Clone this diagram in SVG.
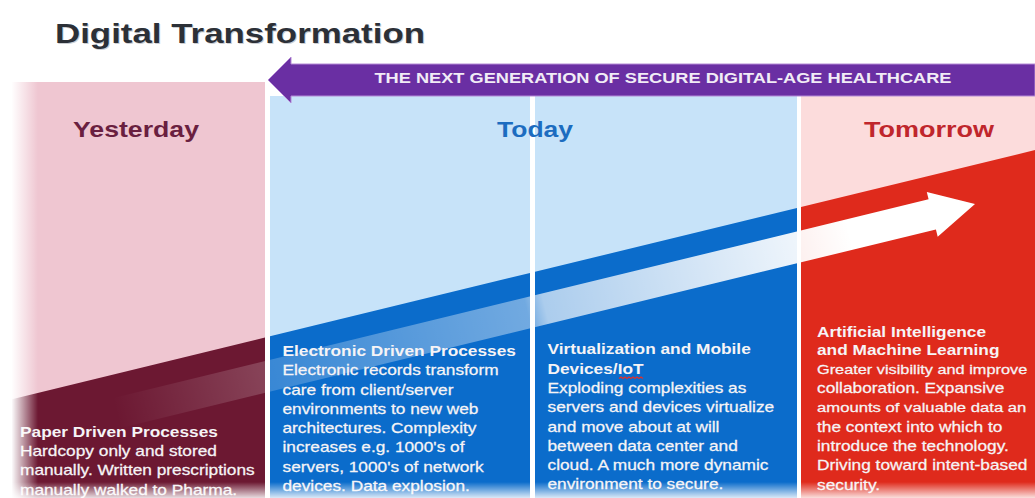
<svg xmlns="http://www.w3.org/2000/svg" width="1035" height="498" viewBox="0 0 1035 498">
<style>
text{font-family:"Liberation Sans",Arial,Helvetica,sans-serif}
.hdr{font-size:22px;font-weight:bold;text-anchor:middle}
.b{font-size:14px;fill:#f6f4f6;stroke:#f6f4f6;stroke-width:0.25}
.bb{font-size:14px;fill:#f6f4f6;font-weight:bold}
</style>
<defs>
<linearGradient id="arrowFade" gradientUnits="userSpaceOnUse" x1="-921" y1="0" x2="0" y2="0">
<stop offset="0.04" stop-color="#fff" stop-opacity="0"/>
<stop offset="0.2" stop-color="#fff" stop-opacity="0.18"/>
<stop offset="0.5" stop-color="#fff" stop-opacity="0.42"/>
<stop offset="0.52" stop-color="#fff" stop-opacity="0.66"/>
<stop offset="0.8" stop-color="#fff" stop-opacity="0.93"/>
<stop offset="0.86" stop-color="#fff" stop-opacity="1"/>
</linearGradient>
<linearGradient id="leftFade" x1="0" y1="0" x2="1" y2="0">
<stop offset="0.3" stop-color="#fff" stop-opacity="1"/>
<stop offset="1" stop-color="#fff" stop-opacity="0"/>
</linearGradient>
<linearGradient id="bottomFade" x1="0" y1="0" x2="0" y2="1">
<stop offset="0" stop-color="#fff" stop-opacity="0"/>
<stop offset="1" stop-color="#fff" stop-opacity="0.85"/>
</linearGradient>
</defs>
<rect width="1035" height="498" fill="#fff"/>

<g id="title">
<text x="56" y="44" font-size="28" font-weight="bold" fill="#9aa0a8" opacity="0.5" textLength="370" lengthAdjust="spacingAndGlyphs">Digital Transformation</text>
<text x="55" y="43" font-size="28" font-weight="bold" fill="#2c3037" textLength="370" lengthAdjust="spacingAndGlyphs">Digital Transformation</text>
</g>

<g id="col-yesterday">
<rect x="12" y="82" width="253" height="416" fill="#efc6d1"/>
<polygon points="12,399.2 265,337.6 265,498 12,498" fill="#6c1832"/>
<text class="hdr" x="136" y="137" fill="#6a1f40" textLength="126" lengthAdjust="spacingAndGlyphs">Yesterday</text>
</g>

<g id="col-today-a">
<rect x="270" y="96" width="260" height="402" fill="#c7e3f9"/>
<polygon points="270,336.3 530,273 530,498 270,498" fill="#0b6ccb"/>
</g>

<g id="col-today-b">
<rect x="535" y="96" width="262" height="402" fill="#c7e3f9"/>
<polygon points="535,271.8 797,207.9 797,498 535,498" fill="#0b6ccb"/>
</g>
<text id="label-today" class="hdr" x="535" y="137" fill="#1c6cc0" textLength="76" lengthAdjust="spacingAndGlyphs">Today</text>

<g id="col-tomorrow">
<rect x="801" y="96" width="234" height="402" fill="#fcdcdc"/>
<polygon points="801,207 1035,150 1035,498 801,498" fill="#df2a1c"/>
<text class="hdr" x="929" y="137" fill="#c0262c" textLength="130" lengthAdjust="spacingAndGlyphs">Tomorrow</text>
</g>

<g id="connectors">
<polygon transform="translate(975,204) rotate(-13.69)" points="-921,-15.5 -44,-15.5 -44,-23 0,0 -44,23 -44,15.5 -921,15.5" fill="url(#arrowFade)"/>
</g>

<g id="banner">
<polygon points="268,80 291,57 291,64 1035,64 1035,96 291,96 291,103" fill="#6a2fa3" stroke="#b48ad6" stroke-width="1"/>
<text x="663" y="83" font-size="14.6" font-weight="bold" fill="#f1ecf6" text-anchor="middle" textLength="577" lengthAdjust="spacingAndGlyphs">THE NEXT GENERATION OF SECURE DIGITAL-AGE HEALTHCARE</text>
</g>

<g id="text-yesterday" transform="translate(20,0) scale(1.236,1)">
<text class="bb" x="0" y="437">Paper Driven Processes</text>
<text class="b" x="0" y="456">Hardcopy only and stored</text>
<text class="b" x="0" y="475.5">manually. Written prescriptions</text>
<text class="b" x="0" y="495">manually walked to Pharma.</text>
</g>

<g id="text-today-a" transform="translate(282.5,0) scale(1.236,1)">
<text class="bb" x="0" y="356">Electronic Driven Processes</text>
<text class="b" x="0" y="375.3">Electronic records transform</text>
<text class="b" x="0" y="394.6">care from client/server</text>
<text class="b" x="0" y="413.9">environments to new web</text>
<text class="b" x="0" y="433.2">architectures. Complexity</text>
<text class="b" x="0" y="452.5">increases e.g. 1000's of</text>
<text class="b" x="0" y="471.8">servers, 1000's of network</text>
<text class="b" x="0" y="491.1">devices. Data explosion.</text>
</g>

<g id="text-today-b" transform="translate(547.5,0) scale(1.236,1)">
<text class="bb" x="0" y="354.5">Virtualization and Mobile</text>
<text class="bb" x="0" y="373.8">Devices/IoT</text>
<text class="b" x="0" y="393">Exploding complexities as</text>
<text class="b" x="0" y="412.3">servers and devices virtualize</text>
<text class="b" x="0" y="431.6">and move about at will</text>
<text class="b" x="0" y="450.9">between data center and</text>
<text class="b" x="0" y="470.2">cloud. A much more dynamic</text>
<text class="b" x="0" y="489.5">environment to secure.</text>
</g>
<path id="spell-mark" d="M619,378.5 l2,-1.5 l2,1.5 l2,-1.5 l2,1.5 l2,-1.5 l2,1.5 l2,-1.5 l2,1.5 l2,-1.5 l2,1.5 l2,-1.5 l2,1.5" fill="none" stroke="#e0302a" stroke-width="1.2"/>

<g id="text-tomorrow" transform="translate(817,0) scale(1.236,1)">
<text class="bb" x="0" y="336.7">Artificial Intelligence</text>
<text class="bb" x="0" y="355.5">and Machine Learning</text>
<text class="b" x="0" y="374.5" style="font-size:13.2px">Greater visibility and improve</text>
<text class="b" x="0" y="393.5">collaboration. Expansive</text>
<text class="b" x="0" y="412.5" style="font-size:13.5px">amounts of valuable data an</text>
<text class="b" x="0" y="431.8">the context into which to</text>
<text class="b" x="0" y="451">introduce the technology.</text>
<text class="b" x="0" y="470.5">Driving toward intent-based</text>
<text class="b" x="0" y="490">security.</text>
</g>

<rect id="fade-left" x="0" y="70" width="38" height="428" fill="url(#leftFade)"/>
<rect id="fade-bottom" x="0" y="482" width="1035" height="16" fill="url(#bottomFade)"/>
</svg>
